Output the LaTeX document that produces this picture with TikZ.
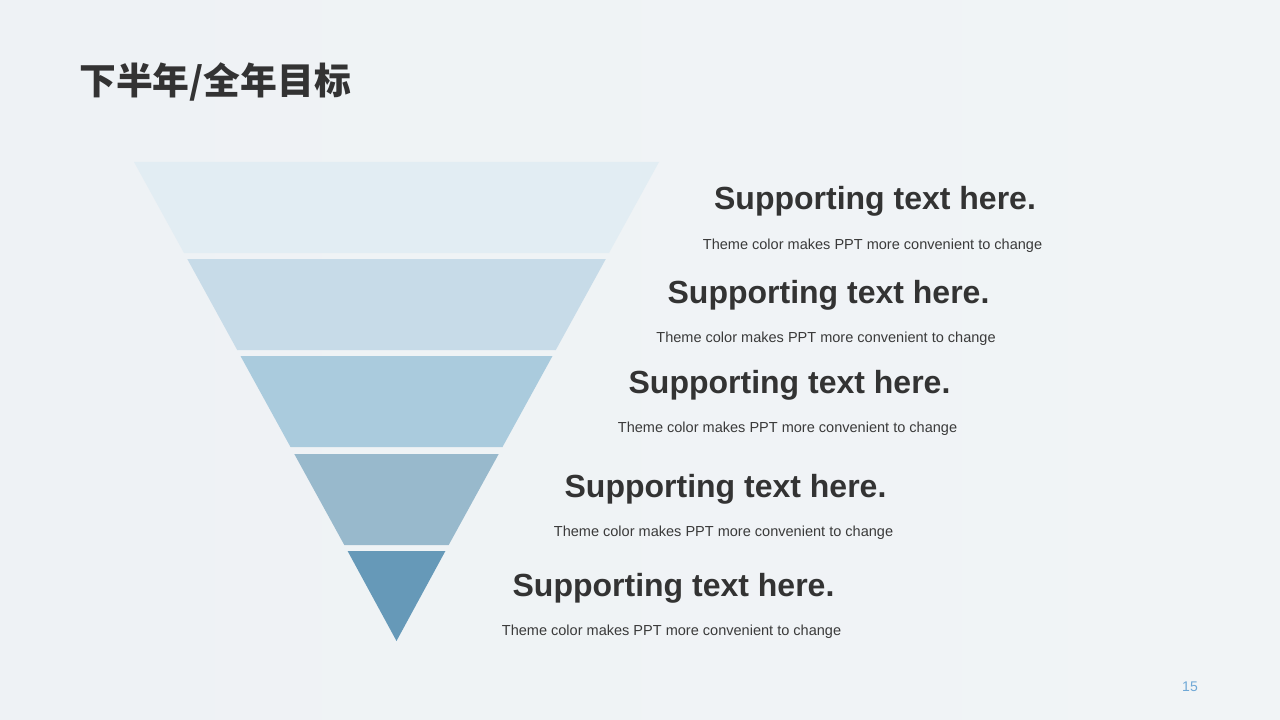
\documentclass[tikz,border=0pt]{standalone}
\usepackage{fontspec}
\setmainfont{Liberation Sans}
\newfontfamily\cjk{Noto Sans CJK SC}
\definecolor{bgc}{HTML}{EEF2F5}
\definecolor{bgr}{HTML}{F1F4F6}
\definecolor{bandA}{HTML}{E2EDF3}
\definecolor{bandB}{HTML}{C7DBE8}
\definecolor{bandC}{HTML}{AACBDD}
\definecolor{bandD}{HTML}{98B9CC}
\definecolor{bandE}{HTML}{6699B8}
\definecolor{txt}{HTML}{333333}
\definecolor{subtxt}{HTML}{3A3A3A}
\definecolor{pnum}{HTML}{6FA8D6}
\tikzset{
  band/.style={draw=none},
  headtxt/.style={anchor=base, inner sep=0pt, text=txt, font=\fontsize{24}{28}\selectfont\bfseries},
  subtext/.style={anchor=base, inner sep=0pt, text=subtxt, font=\fontsize{10.9}{13}\selectfont},
}
\begin{document}
\begin{tikzpicture}[x=0.75pt,y=-0.75pt]
\shade[left color=bgc, right color=bgr] (0,0) rectangle (1280,720);
\useasboundingbox (0,0) rectangle (1280,720);
% title
\node[anchor=west, inner sep=0pt, text=txt, font=\cjk\bfseries\fontsize{27.6}{30}\selectfont] (title) at (79,82) {下半年/全年目标};
% funnel
\fill[bandA] (134,162) -- (659,162) -- (609,253) -- (184,253) -- cycle;
\fill[bandB] (187.3,259) -- (605.8,259) -- (555.8,350) -- (237.2,350) -- cycle;
\fill[bandC] (240.5,356) -- (552.5,356) -- (502.5,447) -- (290.5,447) -- cycle;
\fill[bandD] (294.3,454) -- (498.7,454) -- (448.7,545) -- (344.3,545) -- cycle;
\fill[bandE] (347.6,551) -- (445.4,551) -- (396.5,641) -- cycle;
% texts
\node[headtxt] (h1) at (875,209.5) {Supporting text here.};
\node[subtext] (s1) at (872.5,249) {Theme color makes PPT more convenient to change};
\node[headtxt] (h2) at (828.5,303.5) {Supporting text here.};
\node[subtext] (s2) at (826,342) {Theme color makes PPT more convenient to change};
\node[headtxt] (h3) at (789.5,393.5) {Supporting text here.};
\node[subtext] (s3) at (787.5,432) {Theme color makes PPT more convenient to change};
\node[headtxt] (h4) at (725.5,497.5) {Supporting text here.};
\node[subtext] (s4) at (723.5,536) {Theme color makes PPT more convenient to change};
\node[headtxt] (h5) at (673.5,596.5) {Supporting text here.};
\node[subtext] (s5) at (671.5,635) {Theme color makes PPT more convenient to change};
% page number
\node[anchor=center, inner sep=0pt, text=pnum, font=\fontsize{10.5}{12}\selectfont] (pn) at (1190,687) {15};
\end{tikzpicture}
\end{document}
